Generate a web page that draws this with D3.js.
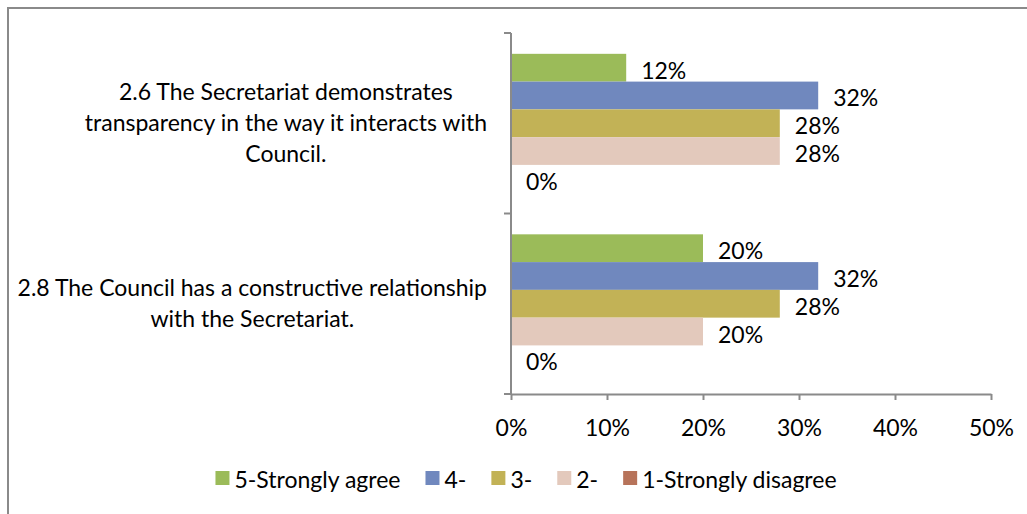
<!DOCTYPE html>
<html>
<head>
<meta charset="utf-8">
<script src="https://cdn.jsdelivr.net/npm/d3@7"></script>
<style>
  html, body { margin: 0; padding: 0; background: #fff; }
  svg { display: block; }
  text { font-family: Lato, "Open Sans", sans-serif; fill: #000; }
</style>
</head>
<body>
<svg id="chart" width="1027" height="514"></svg>
<script>
// Survey statements (each split into its display lines)
const categories = ["2.6", "2.8"];
const categoryLines = [
  ["2.6 The Secretariat demonstrates", "transparency in the way it interacts with", "Council."],
  ["2.8 The Council has a constructive relationship", "with the Secretariat."]
];

// Response series, shares in percent per statement
const seriesNames = ["5-Strongly agree", "4-", "3-", "2-", "1-Strongly disagree"];
const stronglyAgree = [12, 20];
const agree4 = [32, 32];
const neutral3 = [28, 28];
const disagree2 = [28, 20];
const stronglyDisagree = [0, 0];
const seriesColors = ["#9bbb59", "#7088be", "#c2b256", "#e3c9bc", "#b7735a"];

const xTicks = [0, 10, 20, 30, 40, 50];

const seriesValues = [stronglyAgree, agree4, neutral3, disagree2, stronglyDisagree];

const svg = d3.select("#chart");
const fontSize = 23;

// outer chart frame
svg.append("rect")
  .attr("x", 8).attr("y", 8)
  .attr("width", 1100).attr("height", 600)
  .attr("fill", "none")
  .attr("stroke", "#8a8a8a")
  .attr("stroke-width", 2);

const plot = { left: 511, right: 991, top: 33, bottom: 394 };

const x = d3.scaleLinear().domain([0, 50]).range([plot.left, plot.right]);
const y = d3.scaleBand().domain(categories).range([plot.top, plot.bottom]).padding(0);
const ySeries = d3.scaleBand()
  .domain(seriesNames)
  .range([0, y.bandwidth()])
  .paddingInner(0)
  .paddingOuter(0.75);

// bars
const groups = svg.append("g").selectAll("g")
  .data(categories)
  .join("g")
  .attr("transform", d => `translate(0,${y(d)})`);

groups.each(function(cat, ci) {
  const g = d3.select(this);
  const rows = seriesNames.map((s, si) => ({ s, si, v: seriesValues[si][ci] }));
  g.selectAll("rect")
    .data(rows)
    .join("rect")
    .attr("x", x(0))
    .attr("y", d => ySeries(d.s))
    .attr("width", d => x(d.v) - x(0))
    .attr("height", ySeries.bandwidth())
    .attr("fill", d => seriesColors[d.si]);
  g.selectAll("text.val")
    .data(rows)
    .join("text")
    .attr("class", "val")
    .attr("x", d => x(d.v) + 15)
    .attr("y", d => ySeries(d.s) + ySeries.bandwidth() / 2 + 11)
    .attr("font-size", fontSize)
    .text(d => d.v + "%");
});

// x axis
const xAxis = svg.append("g")
  .attr("transform", `translate(0,${plot.bottom})`)
  .call(d3.axisBottom(x)
    .tickValues(xTicks)
    .tickFormat(d => d + "%")
    .tickSize(6)
    .tickSizeOuter(0)
    .tickPadding(20));
xAxis.selectAll("path, line").attr("stroke", "#8a8a8a").attr("stroke-width", 2);
xAxis.selectAll("text")
  .attr("font-size", fontSize)
  .attr("font-family", "Lato, 'Open Sans', sans-serif")
  .attr("fill", "#000");

// y axis: vertical line with ticks at category boundaries
const yAxis = svg.append("g");
yAxis.append("line")
  .attr("x1", plot.left).attr("x2", plot.left)
  .attr("y1", plot.top).attr("y2", plot.bottom)
  .attr("stroke", "#8a8a8a").attr("stroke-width", 2);
const bounds = categories.map(c => y(c)).concat([y.range()[1]]);
yAxis.selectAll("line.tick")
  .data(bounds)
  .join("line")
  .attr("class", "tick")
  .attr("x1", plot.left - 7).attr("x2", plot.left)
  .attr("y1", d => d).attr("y2", d => d)
  .attr("stroke", "#8a8a8a").attr("stroke-width", 2);

// category labels: block right-aligned to the axis, lines centered within block
const lineGap = 31;
const labelRight = plot.left - 24;
categories.forEach((c, ci) => {
  const lines = categoryLines[ci];
  const cy = y(c) + y.bandwidth() / 2;
  const g = svg.append("g");
  const texts = g.selectAll("text")
    .data(lines)
    .join("text")
    .attr("font-size", fontSize)
    .attr("text-anchor", "middle")
    .attr("y", (d, i) => cy + (i - (lines.length - 1) / 2) * lineGap + 8)
    .text(d => d);
  let maxW = 0;
  texts.each(function() { maxW = Math.max(maxW, this.getComputedTextLength()); });
  texts.attr("x", labelRight - maxW / 2);
});

// legend
const legend = svg.append("g");
const sw = 14, legendY = 471, textGap = 5, itemGap = 25;
let cursor = 0;
seriesNames.forEach((name, i) => {
  const item = legend.append("g");
  item.append("rect")
    .attr("x", 0).attr("y", legendY)
    .attr("width", sw).attr("height", sw)
    .attr("fill", seriesColors[i]);
  const t = item.append("text")
    .attr("x", sw + textGap)
    .attr("y", legendY + sw / 2 + 10)
    .attr("font-size", fontSize)
    .text(name);
  const w = sw + textGap + t.node().getComputedTextLength();
  item.attr("transform", `translate(${cursor},0)`);
  cursor += w + itemGap;
});
const totalW = cursor - itemGap;
legend.attr("transform", `translate(${526 - totalW / 2},0)`);
</script>
</body>
</html>
